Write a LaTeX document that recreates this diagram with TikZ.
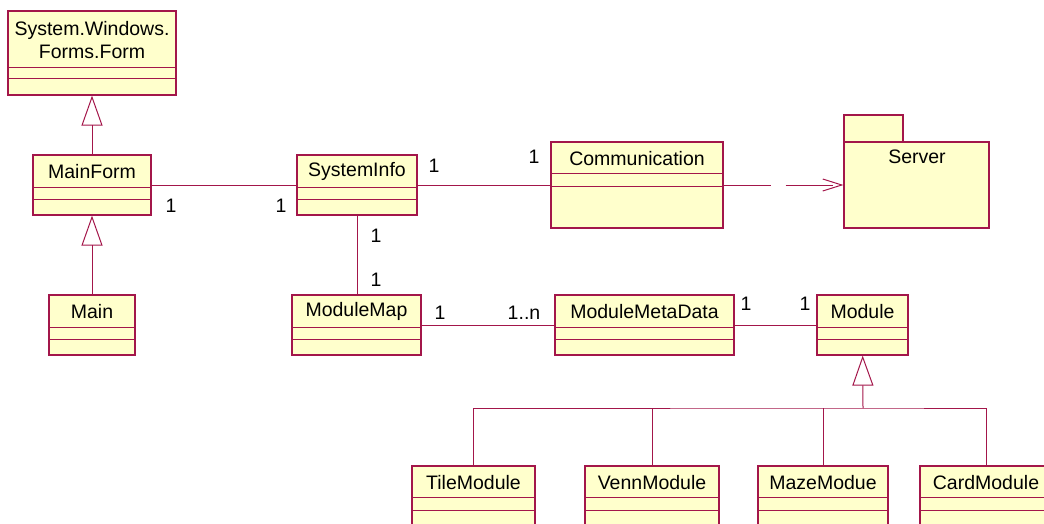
\documentclass[tikz,border=0pt]{standalone}
\usepackage{fontspec}
\setmainfont{Liberation Sans}
\usetikzlibrary{arrows.meta}
\definecolor{roseLinea}{HTML}{A3164A}
\definecolor{roseFondo}{HTML}{FFFFCC}

\begin{document}
\begin{tikzpicture}[x=1pt, y=-1pt, font=\fontsize{19.5}{23}\selectfont,
        cls/.style={draw=roseLinea, fill=roseFondo, line width=1.2pt, inner sep=0pt},
        cname/.style={align=center, inner sep=0pt},
        mult/.style={inner sep=0pt},
        assoc/.style={draw=roseLinea, line width=1pt},
        gen/.style={assoc, -{Triangle[open, length=30pt, width=21pt]}},
        dep/.style={assoc, dash pattern=on 47pt off 15pt, -{Straight Barb[length=19pt, width=12pt]}}]
    \useasboundingbox (0,0) rectangle (1044,524);
    % class boxes
    \foreach \n/\x/\y/\w/\h in {form/92/53/168/84, mainform/92/185/118/60, main/92/325/86/60,
            sysinfo/357/185/120/60, comm/637/185/172/86, modmap/356.5/325/129/60,
            metadata/644.5/325/179/60, module/862.5/325/91/60, tile/473.5/496/123/60,
            venn/652/496/134/60, maze/823/496/130/60, card/986/496/132/60}
        \node[cls, minimum width=\w pt, minimum height=\h pt] (\n) at (\x,\y) {};
    % compartments and names
    \foreach \n/\a/\b/\t in {form/57/68/{System.Windows.\\Forms.Form}, mainform/33/45/MainForm,
            main/33/45/Main, sysinfo/33/45/SystemInfo, comm/32/45/Communication,
            modmap/33/45/ModuleMap, metadata/33/45/ModuleMetaData, module/33/45/Module,
            tile/32/45/TileModule, venn/32/45/VennModule, maze/32/45/MazeModue,
            card/32/45/CardModule} {
        \draw[cls, fill=none] ([yshift={-\a}]\n.north west) -- ([yshift={-\a}]\n.north east);
        \draw[cls, fill=none] ([yshift={-\b}]\n.north west) -- ([yshift={-\b}]\n.north east);
        \node[cname] (\n-t) at ([yshift={-0.5*\a-1}]\n.north) {\t};
    }
    % package
    \node[cls, minimum width=59pt, minimum height=27pt] (servertab) at (873.5,128.5) {};
    \node[cls, minimum width=145pt, minimum height=86pt] (server) at (916.5,185) {};
    \node[cname] (server-t) at (917,157) {Server};
    % multiplicities
    \node[mult] (m-mf) at (171,206) {1};
    \node[mult] (m-si1) at (281,206) {1};
    \node[mult] (m-si2) at (434,166) {1};
    \node[mult] (m-co) at (534,157) {1};
    \node[mult] (m-si3) at (376,236) {1};
    \node[mult] (m-mm1) at (376,280) {1};
    \node[mult] (m-mm2) at (440,313) {1};
    \node[mult] (m-md1) at (524,313) {1..n};
    \node[mult] (m-md2) at (746,304) {1};
    \node[mult] (m-mo) at (805,304) {1};
    % connectors
    \draw[gen] (mainform) -- (form);
    \draw[gen] (main) -- (mainform);
    \draw[assoc] (mainform) -- (sysinfo);
    \draw[assoc] (sysinfo) -- (comm);
    \draw[dep] (comm) -- (server);
    \draw[assoc] (sysinfo.south) -- (sysinfo.south |- modmap.north);
    \draw[assoc] (modmap) -- (metadata);
    \draw[assoc] (metadata) -- (module);
    \coordinate (bus) at (863,408);
    \draw[gen] (bus) -- (module);
    \draw[assoc] (tile.north) |- (bus) -| (card.north);
    \foreach \n in {venn,maze} \draw[assoc] (\n.north) -- (\n.north |- bus);
\end{tikzpicture}
\end{document}
